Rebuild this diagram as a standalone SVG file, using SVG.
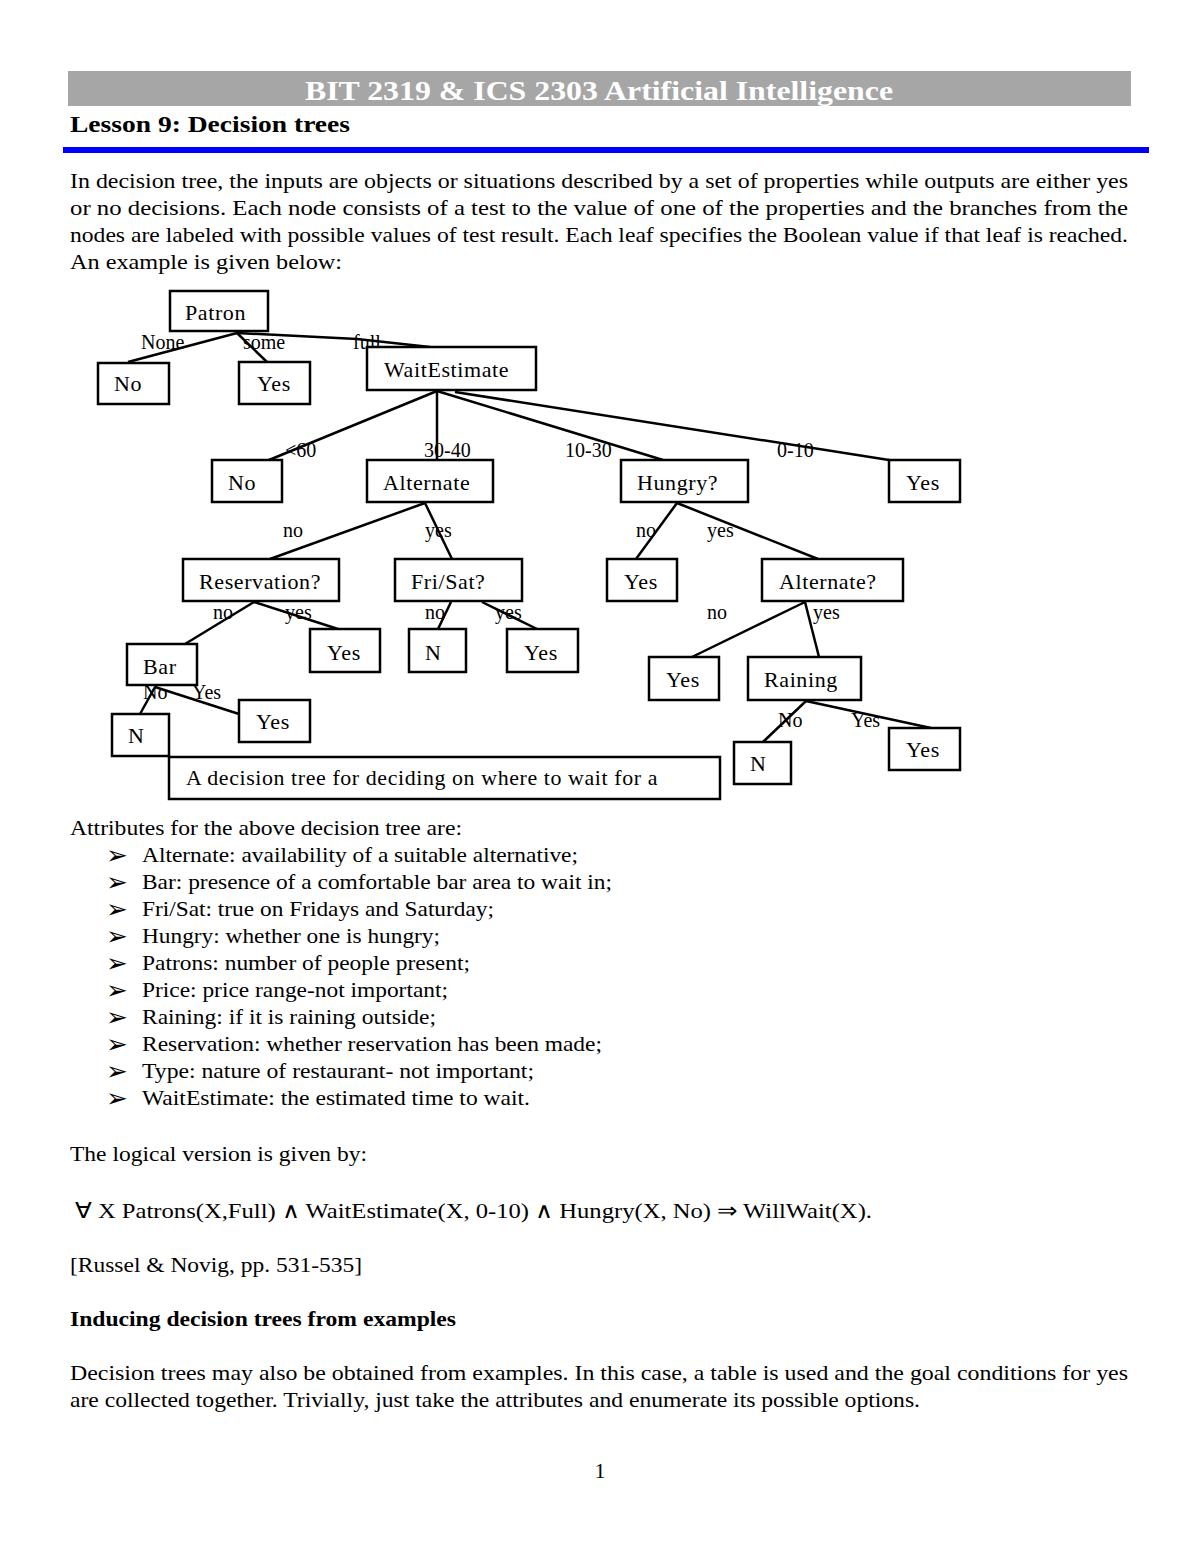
<svg xmlns="http://www.w3.org/2000/svg" width="1200" height="1553" viewBox="0 0 1200 1553">
<style>
text{font-family:"Liberation Serif","Times New Roman",serif;fill:#000}
.body{font-size:22px}
.nd rect{fill:#fff;stroke:#000;stroke-width:2.5}
.nd text{font-size:22px;letter-spacing:0.6px}
.lbl{font-size:20px}
.edges line,.edges polyline{stroke:#000;stroke-width:2.5;fill:none}
.bul{font-family:"DejaVu Sans",sans-serif;font-size:26px}
</style>
<rect width="1200" height="1553" fill="#fff"/>
<rect x="68" y="71" width="1063" height="35" fill="#a6a6a6"/>
<text x="599" y="100" text-anchor="middle" style="font-size:28px;font-weight:bold;fill:#fff" textLength="588" lengthAdjust="spacingAndGlyphs">BIT 2319 &amp; ICS 2303  Artificial Intelligence</text>
<text x="70" y="132" style="font-size:24px;font-weight:bold" textLength="280" lengthAdjust="spacingAndGlyphs">Lesson 9: Decision trees</text>
<rect x="63" y="147" width="1086" height="6" fill="#0000ff"/>

<g class="body">
<text x="70" y="188" textLength="1058" lengthAdjust="spacingAndGlyphs">In decision tree, the inputs are objects or situations described by a set of properties while outputs are either yes</text>
<text x="70" y="215" textLength="1058" lengthAdjust="spacingAndGlyphs">or no decisions. Each node consists of a test to the value of one of the properties and the branches from the</text>
<text x="70" y="242" textLength="1058" lengthAdjust="spacingAndGlyphs">nodes are labeled with possible values of test result. Each leaf specifies the Boolean value if that leaf is reached.</text>
<text x="70" y="269" textLength="272" lengthAdjust="spacingAndGlyphs">An example is given below:</text>
</g>

<g class="edges">
<line x1="237" y1="333" x2="128" y2="362"/>
<line x1="237" y1="333" x2="267" y2="362"/>
<polyline points="237,333 357,339 430,347"/>
<line x1="437" y1="391" x2="269" y2="460"/>
<line x1="437" y1="391" x2="437" y2="460"/>
<line x1="437" y1="391" x2="663" y2="460"/>
<line x1="455" y1="392" x2="889" y2="460"/>
<line x1="425" y1="503" x2="270" y2="559"/>
<line x1="425" y1="503" x2="452" y2="559"/>
<line x1="254" y1="602" x2="185" y2="644"/>
<line x1="254" y1="602" x2="338" y2="629"/>
<line x1="451" y1="602" x2="438" y2="629"/>
<line x1="482" y1="602" x2="537" y2="629"/>
<line x1="155" y1="687" x2="140" y2="714"/>
<line x1="155" y1="687" x2="239" y2="714"/>
<line x1="677" y1="503" x2="636" y2="559"/>
<line x1="677" y1="503" x2="818" y2="559"/>
<line x1="805" y1="602" x2="692" y2="657"/>
<line x1="805" y1="602" x2="819" y2="657"/>
<line x1="806" y1="701" x2="763" y2="742"/>
<line x1="806" y1="701" x2="931" y2="728"/>
</g>

<g class="lbl">
<text x="141" y="349">None</text>
<text x="243" y="349">some</text>
<text x="353" y="349">full</text>
<text x="285" y="457">&lt;60</text>
<text x="424" y="457">30-40</text>
<text x="565" y="457">10-30</text>
<text x="777" y="457">0-10</text>
<text x="283" y="537">no</text>
<text x="425" y="537">yes</text>
<text x="636" y="537">no</text>
<text x="707" y="537">yes</text>
<text x="213" y="619">no</text>
<text x="285" y="619">yes</text>
<text x="425" y="619">no</text>
<text x="495" y="619">yes</text>
<text x="707" y="619">no</text>
<text x="813" y="619">yes</text>
<text x="143" y="699">No</text>
<text x="192" y="699">Yes</text>
<text x="778" y="727">No</text>
<text x="851" y="727">Yes</text>
</g>

<g class="nd" id="n-patron"><rect x="170" y="291" width="98" height="40"/><text x="185" y="320">Patron</text></g>
<g class="nd" id="n-no1"><rect x="98" y="363" width="71" height="41"/><text x="114" y="391">No</text></g>
<g class="nd" id="n-yes1"><rect x="239" y="362" width="71" height="42"/><text x="257" y="391">Yes</text></g>
<g class="nd" id="n-wait"><rect x="367" y="347" width="169" height="43"/><text x="384" y="377">WaitEstimate</text></g>
<g class="nd" id="n-no2"><rect x="212" y="460" width="70" height="42"/><text x="228" y="490">No</text></g>
<g class="nd" id="n-alt"><rect x="367" y="460" width="126" height="42"/><text x="383" y="490">Alternate</text></g>
<g class="nd" id="n-hungry"><rect x="621" y="460" width="127" height="42"/><text x="637" y="490">Hungry?</text></g>
<g class="nd" id="n-yes2"><rect x="889" y="460" width="71" height="42"/><text x="906" y="490">Yes</text></g>
<g class="nd" id="n-res"><rect x="183" y="559" width="156" height="42"/><text x="199" y="589">Reservation?</text></g>
<g class="nd" id="n-fri"><rect x="395" y="559" width="127" height="42"/><text x="411" y="589">Fri/Sat?</text></g>
<g class="nd" id="n-yes3"><rect x="607" y="559" width="70" height="42"/><text x="624" y="589">Yes</text></g>
<g class="nd" id="n-alt2"><rect x="762" y="559" width="141" height="42"/><text x="779" y="589">Alternate?</text></g>
<g class="nd" id="n-bar"><rect x="127" y="644" width="70" height="41"/><text x="143" y="674">Bar</text></g>
<g class="nd" id="n-yes4"><rect x="310" y="629" width="70" height="43"/><text x="327" y="660">Yes</text></g>
<g class="nd" id="n-n1"><rect x="409" y="629" width="57" height="43"/><text x="425" y="660">N</text></g>
<g class="nd" id="n-yes5"><rect x="507" y="629" width="71" height="43"/><text x="524" y="660">Yes</text></g>
<g class="nd" id="n-yes6"><rect x="649" y="657" width="70" height="43"/><text x="666" y="687">Yes</text></g>
<g class="nd" id="n-rain"><rect x="748" y="657" width="113" height="43"/><text x="764" y="687">Raining</text></g>
<g class="nd" id="n-caption"><rect x="169" y="757" width="551" height="42"/><text x="186" y="785" textLength="472" lengthAdjust="spacingAndGlyphs">A decision tree for deciding on where to wait for a</text></g>
<g class="nd" id="n-n2"><rect x="112" y="714" width="57" height="42"/><text x="128" y="743">N</text></g>
<g class="nd" id="n-yes7"><rect x="239" y="700" width="71" height="42"/><text x="256" y="729">Yes</text></g>
<g class="nd" id="n-n3"><rect x="734" y="742" width="57" height="42"/><text x="750" y="771">N</text></g>
<g class="nd" id="n-yes8"><rect x="889" y="728" width="71" height="42"/><text x="906" y="757">Yes</text></g>

<g class="body">
<text x="70" y="835" textLength="392" lengthAdjust="spacingAndGlyphs">Attributes for the above decision tree are:</text>
<g class="bul">
<text x="106" y="864">➢</text><text x="106" y="891">➢</text><text x="106" y="918">➢</text><text x="106" y="945">➢</text><text x="106" y="972">➢</text>
<text x="106" y="999">➢</text><text x="106" y="1026">➢</text><text x="106" y="1053">➢</text><text x="106" y="1080">➢</text><text x="106" y="1107">➢</text>
</g>
<text x="142" y="862" textLength="436" lengthAdjust="spacingAndGlyphs">Alternate: availability of a suitable alternative;</text>
<text x="142" y="889" textLength="470" lengthAdjust="spacingAndGlyphs">Bar: presence of a comfortable bar area to wait in;</text>
<text x="142" y="916" textLength="352" lengthAdjust="spacingAndGlyphs">Fri/Sat: true on Fridays and Saturday;</text>
<text x="142" y="943" textLength="298" lengthAdjust="spacingAndGlyphs">Hungry: whether one is hungry;</text>
<text x="142" y="970" textLength="328" lengthAdjust="spacingAndGlyphs">Patrons: number of people present;</text>
<text x="142" y="997" textLength="306" lengthAdjust="spacingAndGlyphs">Price: price range-not important;</text>
<text x="142" y="1024" textLength="294" lengthAdjust="spacingAndGlyphs">Raining: if it is raining outside;</text>
<text x="142" y="1051" textLength="460" lengthAdjust="spacingAndGlyphs">Reservation: whether reservation has been made;</text>
<text x="142" y="1078" textLength="392" lengthAdjust="spacingAndGlyphs">Type: nature of restaurant- not important;</text>
<text x="142" y="1105" textLength="388" lengthAdjust="spacingAndGlyphs">WaitEstimate: the estimated time to wait.</text>

<text x="70" y="1161" textLength="297" lengthAdjust="spacingAndGlyphs">The logical version is given by:</text>
<text x="75" y="1218" textLength="797" lengthAdjust="spacingAndGlyphs">∀ X  Patrons(X,Full)  ∧ WaitEstimate(X, 0-10) ∧ Hungry(X, No)  ⇒  WillWait(X).</text>
<text x="70" y="1272" textLength="292" lengthAdjust="spacingAndGlyphs">[Russel &amp; Novig, pp. 531-535]</text>
<text x="70" y="1326" style="font-weight:bold" textLength="386" lengthAdjust="spacingAndGlyphs">Inducing decision trees from examples</text>
<text x="70" y="1380" textLength="1058" lengthAdjust="spacingAndGlyphs">Decision trees may also be obtained from examples. In this case, a table is used and the goal conditions for yes</text>
<text x="70" y="1407" textLength="850" lengthAdjust="spacingAndGlyphs">are collected together. Trivially, just take the attributes and enumerate its possible options.</text>
<text x="600" y="1478" text-anchor="middle">1</text>
</g>
</svg>
